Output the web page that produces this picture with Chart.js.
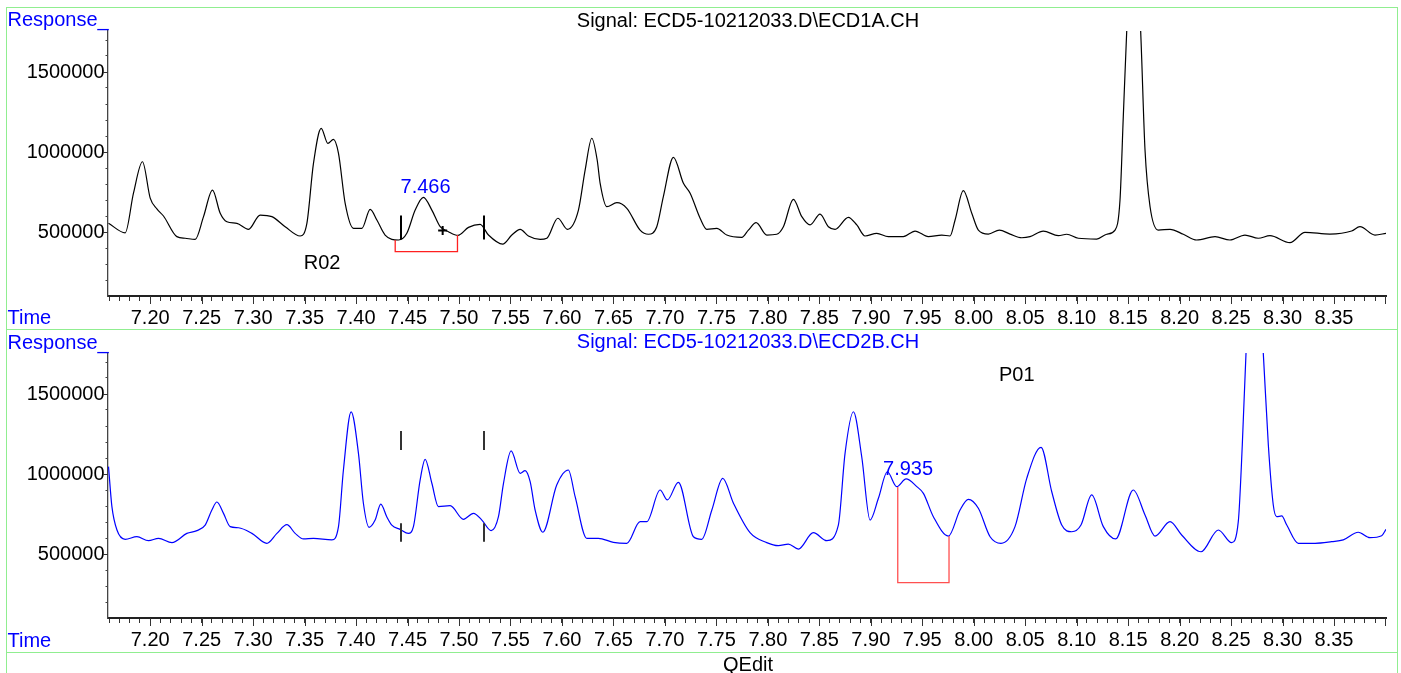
<!DOCTYPE html>
<html><head><meta charset="utf-8">
<script src="https://cdn.jsdelivr.net/npm/chart.js@4.4.1/dist/chart.umd.min.js"></script>
<style>
html,body{margin:0;padding:0;background:#fff;}
#wrap{position:relative;width:1401px;height:673px;overflow:hidden;background:#fff;}
.g{position:absolute;background:rgb(144,238,144);}
canvas{position:absolute;left:0;top:0;}
</style></head><body>
<div id="wrap">
<div class="g" style="left:6px;top:7px;width:1392px;height:1px"></div>
<div class="g" style="left:6px;top:329px;width:1392px;height:1px"></div>
<div class="g" style="left:6px;top:652px;width:1392px;height:1px"></div>
<div class="g" style="left:6px;top:7px;width:1px;height:666px"></div>
<div class="g" style="left:1397px;top:7px;width:1px;height:666px"></div>
<div style="position:absolute;left:0;top:7px;width:1401px;height:322px"><canvas id="c1" width="1401" height="322"></canvas></div>
<div style="position:absolute;left:0;top:329px;width:1401px;height:344px"><canvas id="c2" width="1401" height="344"></canvas></div>
</div>
<script>
// ---------- data ----------
const times1 = [7.1595,7.1757,7.1838,7.1925,7.2000,7.2065,7.2129,7.2259,7.2340,7.2437,
7.2518,7.2605,7.2680,7.2745,7.2842,7.2955,7.3068,7.3182,7.3311,7.3457,
7.3522,7.3586,7.3661,7.3726,7.3780,7.3829,7.3894,7.3975,7.4056,7.4137,
7.4202,7.4282,7.4412,7.4493,7.4574,7.4654,7.4736,7.4817,7.4897,7.4989,
7.5092,7.5205,7.5286,7.5424,7.5513,7.5594,7.5674,7.5788,7.5853,7.5960,
7.6053,7.6160,7.6225,7.6290,7.6342,7.6371,7.6436,7.6533,7.6630,7.6759,
7.6840,7.6921,7.6985,7.7083,7.7180,7.7245,7.7342,7.7407,7.7504,7.7601,
7.7747,7.7811,7.7886,7.7990,7.8087,7.8151,7.8248,7.8330,7.8410,7.8507,
7.8588,7.8653,7.8782,7.8864,7.8944,7.9058,7.9170,7.9316,7.9430,7.9559,
7.9689,7.9770,7.9819,7.9899,7.9981,8.0045,8.0142,8.0249,8.0353,8.0466,
8.0547,8.0676,8.0822,8.0903,8.1016,8.1195,8.1292,8.1373,8.1421,8.1453,
8.1486,8.1554,8.1622,8.1664,8.1713,8.1793,8.1907,8.2036,8.2166,8.2344,
8.2489,8.2635,8.2764,8.2878,8.3072,8.3218,8.3460,8.3671,8.3752,8.3898,
8.4005];
const resp1 = [555000,495000,744000,939000,712000,644000,600000,471000,461000,454000,
596000,762000,617000,564000,554000,517000,606000,596000,533000,475000,
554000,929000,1148000,1054000,1079000,992000,679000,523000,523000,642000,
575000,481000,450000,492000,637000,717000,637000,533000,502000,479000,
529000,548000,481000,424000,481000,517000,475000,454000,461000,586000,
517000,637000,887000,1086000,950000,804000,658000,683000,648000,512000,
486000,533000,721000,967000,804000,742000,586000,517000,523000,481000,
467000,512000,558000,481000,486000,533000,704000,596000,544000,612000,
533000,517000,592000,544000,475000,492000,471000,471000,506000,471000,
481000,475000,575000,758000,617000,512000,487000,512000,487000,464000,
471000,506000,477000,486000,461000,456000,486000,512000,700000,1221000,
1752000,2600000,1752000,1012000,658000,512000,517000,486000,450000,471000,
450000,481000,461000,477000,433000,498000,487000,506000,533000,481000,
492000];

const times2 = [7.1595,7.1628,7.1677,7.1757,7.1871,7.1983,7.2081,7.2211,7.2356,7.2454,
7.2534,7.2599,7.2648,7.2712,7.2777,7.2858,7.2988,7.3133,7.3231,7.3328,
7.3408,7.3489,7.3586,7.3765,7.3829,7.3877,7.3952,7.4023,7.4071,7.4126,
7.4185,7.4240,7.4298,7.4347,7.4428,7.4508,7.4557,7.4622,7.4671,7.4736,
7.4800,7.4914,7.5043,7.5140,7.5222,7.5312,7.5383,7.5432,7.5506,7.5594,
7.5642,7.5691,7.5739,7.5814,7.5949,7.6062,7.6128,7.6241,7.6354,7.6499,
7.6630,7.6759,7.6824,7.6953,7.7024,7.7131,7.7277,7.7358,7.7456,7.7562,
7.7666,7.7827,7.7989,7.8102,7.8199,7.8297,7.8442,7.8573,7.8685,7.8750,
7.8831,7.8912,7.8993,7.9074,7.9161,7.9252,7.9343,7.9447,7.9511,7.9608,
7.9754,7.9867,7.9948,8.0045,8.0159,8.0265,8.0401,8.0515,8.0654,8.0758,
8.0855,8.0952,8.1042,8.1146,8.1259,8.1379,8.1550,8.1664,8.1761,8.1907,
8.2020,8.2208,8.2376,8.2506,8.2570,8.2609,8.2645,8.2729,8.2813,8.2862,
8.2910,8.2943,8.2992,8.3041,8.3153,8.3316,8.3477,8.3590,8.3736,8.3849,
8.3963,8.4005];
const resp2 = [1046000,796000,650000,592000,608000,583000,598000,571000,629000,646000,
681000,775000,825000,754000,671000,664000,629000,567000,629000,683000,
629000,594000,598000,588000,671000,1025000,1388000,1129000,817000,667000,
712000,812000,733000,681000,654000,629000,671000,962000,1092000,942000,
796000,802000,717000,754000,712000,646000,733000,942000,1144000,1004000,
1021000,952000,775000,636000,931000,1025000,858000,598000,598000,573000,
567000,702000,702000,900000,838000,948000,608000,592000,775000,973000,
817000,633000,571000,552000,562000,531000,633000,583000,681000,1129000,
1389000,1108000,712000,848000,1014000,921000,969000,921000,879000,733000,
612000,775000,842000,786000,608000,567000,671000,973000,1167000,889000,
681000,639000,681000,869000,671000,594000,900000,744000,612000,702000,
619000,514000,650000,571000,702000,1181000,1754000,2600000,1754000,1181000,
806000,733000,738000,681000,567000,567000,577000,588000,636000,602000,
614000,654000];

const xTickLabels = ['7.20','7.25','7.30','7.35','7.40','7.45','7.50','7.55','7.60','7.65','7.70','7.75','7.80','7.85','7.90','7.95','8.00','8.05','8.10','8.15','8.20','8.25','8.30','8.35'];
const yTickLabels = ['500000','1000000','1500000'];
const X_MIN = 7.159, X_MAX = 8.4005;
const Y_MIN = 100000, Y_MAX = 1756250;

// annotations (time, response)
const integMarks1 = [7.444, 7.5244];
const integMarkRange1 = [453125, 603125];
const integMarks2 = [7.444, 7.5244];
const integMarkRanges2 = [[1150000, 1268750], [576875, 691875]];
const baseline1 = {t: [7.438, 7.4985], v: [450000, 376875, 481250]};
const baseline2 = {t: [7.9262, 7.976], v: [918750, 320625, 612500]};
const peakLabel1 = {text: '7.466', t: 7.4675, v: 743750};
const peakLabel2 = {text: '7.935', t: 7.9362, v: 993750};
const nameLabel1 = {text: 'R02', t: 7.367, v: 268750};
const nameLabel2 = {text: 'P01', t: 8.0418, v: 1581250};
const plusMark1 = {t: 7.4841, v: 509375};

// ---------- chart building ----------
const FONT = '"Liberation Sans", Arial, Helvetica, sans-serif';
const AREA = {left: 108, right: 1386, top: 24, bottom: 289};

function minorXTicks() {
  const out = [];
  for (let i = 716; i <= 840; i++) out.push(i / 100);
  return out;
}
function minorYTicks() {
  const out = [];
  for (let i = 2; i <= 17; i++) out.push(i * 100000);
  return out;
}
function isMultiple(v, step) { const r = v / step; return Math.abs(r - Math.round(r)) < 1e-6; }

function makePlugin(p) {
  return {
    id: 'panel_' + p.id,
    afterDraw(chart) {
      const ctx = chart.ctx, xs = chart.scales.x, ys = chart.scales.y;
      const a = chart.chartArea;
      const px = t => xs.getPixelForValue(t), py = v => ys.getPixelForValue(v);
      ctx.save();
      // longer major ticks
      ctx.strokeStyle = '#333'; ctx.lineWidth = 1;
      ctx.beginPath();
      minorXTicks().forEach(v => {
        if (isMultiple(v, 0.05)) {
          const x = Math.round(px(v)) + 0.5;
          ctx.moveTo(x, a.bottom); ctx.lineTo(x, a.bottom + 8);
        }
      });
      minorYTicks().forEach(v => {
        if (isMultiple(v, 500000)) {
          const y = Math.round(py(v)) + 0.5;
          ctx.moveTo(a.left - 5, y); ctx.lineTo(a.left, y);
        }
      });
      ctx.stroke();

      // header / footer texts
      ctx.font = '20px ' + FONT;
      ctx.textBaseline = 'alphabetic';
      ctx.textAlign = 'left';
      ctx.fillStyle = '#0000ff';
      ctx.fillText('Response_', 7.5, p.respBase);
      ctx.fillText('Time', 7.5, p.timeBase);
      ctx.textAlign = 'center';
      ctx.fillStyle = p.titleColor;
      ctx.fillText(p.title, 748, p.titleBase);
      if (p.footer) { ctx.fillStyle = '#000'; ctx.fillText(p.footer, 748, p.footerBase); }

      // red baseline bracket
      const b = p.baseline;
      ctx.strokeStyle = p.bracketColor; ctx.lineWidth = 1.3;
      ctx.beginPath();
      ctx.moveTo(px(b.t[0]), py(b.v[0]));
      ctx.lineTo(px(b.t[0]), py(b.v[1]));
      ctx.lineTo(px(b.t[1]), py(b.v[1]));
      ctx.lineTo(px(b.t[1]), py(b.v[2]));
      ctx.stroke();

      // integration marks
      ctx.strokeStyle = p.markColor; ctx.lineWidth = 2;
      ctx.beginPath();
      p.marks.forEach(t => {
        p.markRanges.forEach(r => {
          const x = Math.round(px(t));
          ctx.moveTo(x, py(r[0])); ctx.lineTo(x, py(r[1]));
        });
      });
      ctx.stroke();

      if (p.plus) {
        ctx.strokeStyle = '#000'; ctx.lineWidth = 2;
        const x = px(p.plus.t), y = py(p.plus.v);
        ctx.beginPath();
        ctx.moveTo(x - 4.5, y); ctx.lineTo(x + 4.5, y);
        ctx.moveTo(x, y - 4.5); ctx.lineTo(x, y + 4.5);
        ctx.stroke();
      }

      // labels
      ctx.textAlign = 'center';
      ctx.fillStyle = '#0000ff';
      ctx.fillText(p.peak.text, px(p.peak.t), py(p.peak.v));
      ctx.fillStyle = '#000';
      ctx.fillText(p.name.text, px(p.name.t), py(p.name.v));
      ctx.restore();
    }
  };
}

function makeChart(canvasId, times, values, lineColor, p, canvasH) {
  const pts = times.map((t, i) => ({x: t, y: values[i]}));
  return new Chart(document.getElementById(canvasId), {
    type: 'line',
    data: {datasets: [{data: pts, borderColor: lineColor, borderWidth: 1.2, pointRadius: 0,
      fill: false, cubicInterpolationMode: 'monotone'}]},
    options: {
      responsive: false, animation: false, events: [],
      layout: {padding: {left: 0, right: 1401 - AREA.right, top: AREA.top, bottom: 0}},
      plugins: {legend: {display: false}, tooltip: {enabled: false}, title: {display: false}},
      scales: {
        x: {
          type: 'linear', min: X_MIN, max: X_MAX,
          afterBuildTicks: s => { s.ticks = minorXTicks().map(v => ({value: v})); },
          afterFit: s => { s.height = canvasH - AREA.bottom; },
          ticks: {autoSkip: false, maxRotation: 0, minRotation: 0, padding: 5, color: '#000',
            font: {family: FONT, size: 20},
            callback: v => { const s = Number(v).toFixed(2); return xTickLabels.includes(s) ? s : ''; }},
          grid: {drawOnChartArea: false, drawTicks: true, tickLength: 5, tickColor: '#333', tickWidth: 1},
          border: {display: true, color: '#222', width: 2}
        },
        y: {
          type: 'linear', min: Y_MIN, max: Y_MAX,
          afterBuildTicks: s => { s.ticks = minorYTicks().map(v => ({value: v})); },
          afterFit: s => { s.width = AREA.left; },
          ticks: {autoSkip: false, padding: 1, color: '#000', font: {family: FONT, size: 20},
            callback: v => { const s = String(Math.round(v)); return yTickLabels.includes(s) ? s : ''; }},
          grid: {drawOnChartArea: false, drawTicks: true, tickLength: 2.5, tickColor: '#444', tickWidth: 1},
          border: {display: true, color: '#444', width: 1.3}
        }
      }
    },
    plugins: [makePlugin(p)]
  });
}

makeChart('c1', times1, resp1, '#000000', {
  id: 'top', title: 'Signal: ECD5-10212033.D\\ECD1A.CH', titleColor: '#000', titleBase: 20,
  respBase: 19, timeBase: 317,
  baseline: baseline1, bracketColor: '#ff2020',
  marks: integMarks1, markRanges: [integMarkRange1], markColor: '#000',
  plus: plusMark1, peak: peakLabel1, name: nameLabel1
}, 322);

makeChart('c2', times2, resp2, '#0000ff', {
  id: 'bot', title: 'Signal: ECD5-10212033.D\\ECD2B.CH', titleColor: '#0000ff', titleBase: 19,
  respBase: 20, timeBase: 318, footer: 'QEdit', footerBase: 342,
  baseline: baseline2, bracketColor: '#ff5050',
  marks: integMarks2, markRanges: integMarkRanges2, markColor: '#333',
  plus: null, peak: peakLabel2, name: nameLabel2
}, 344);
</script>
</body></html>
